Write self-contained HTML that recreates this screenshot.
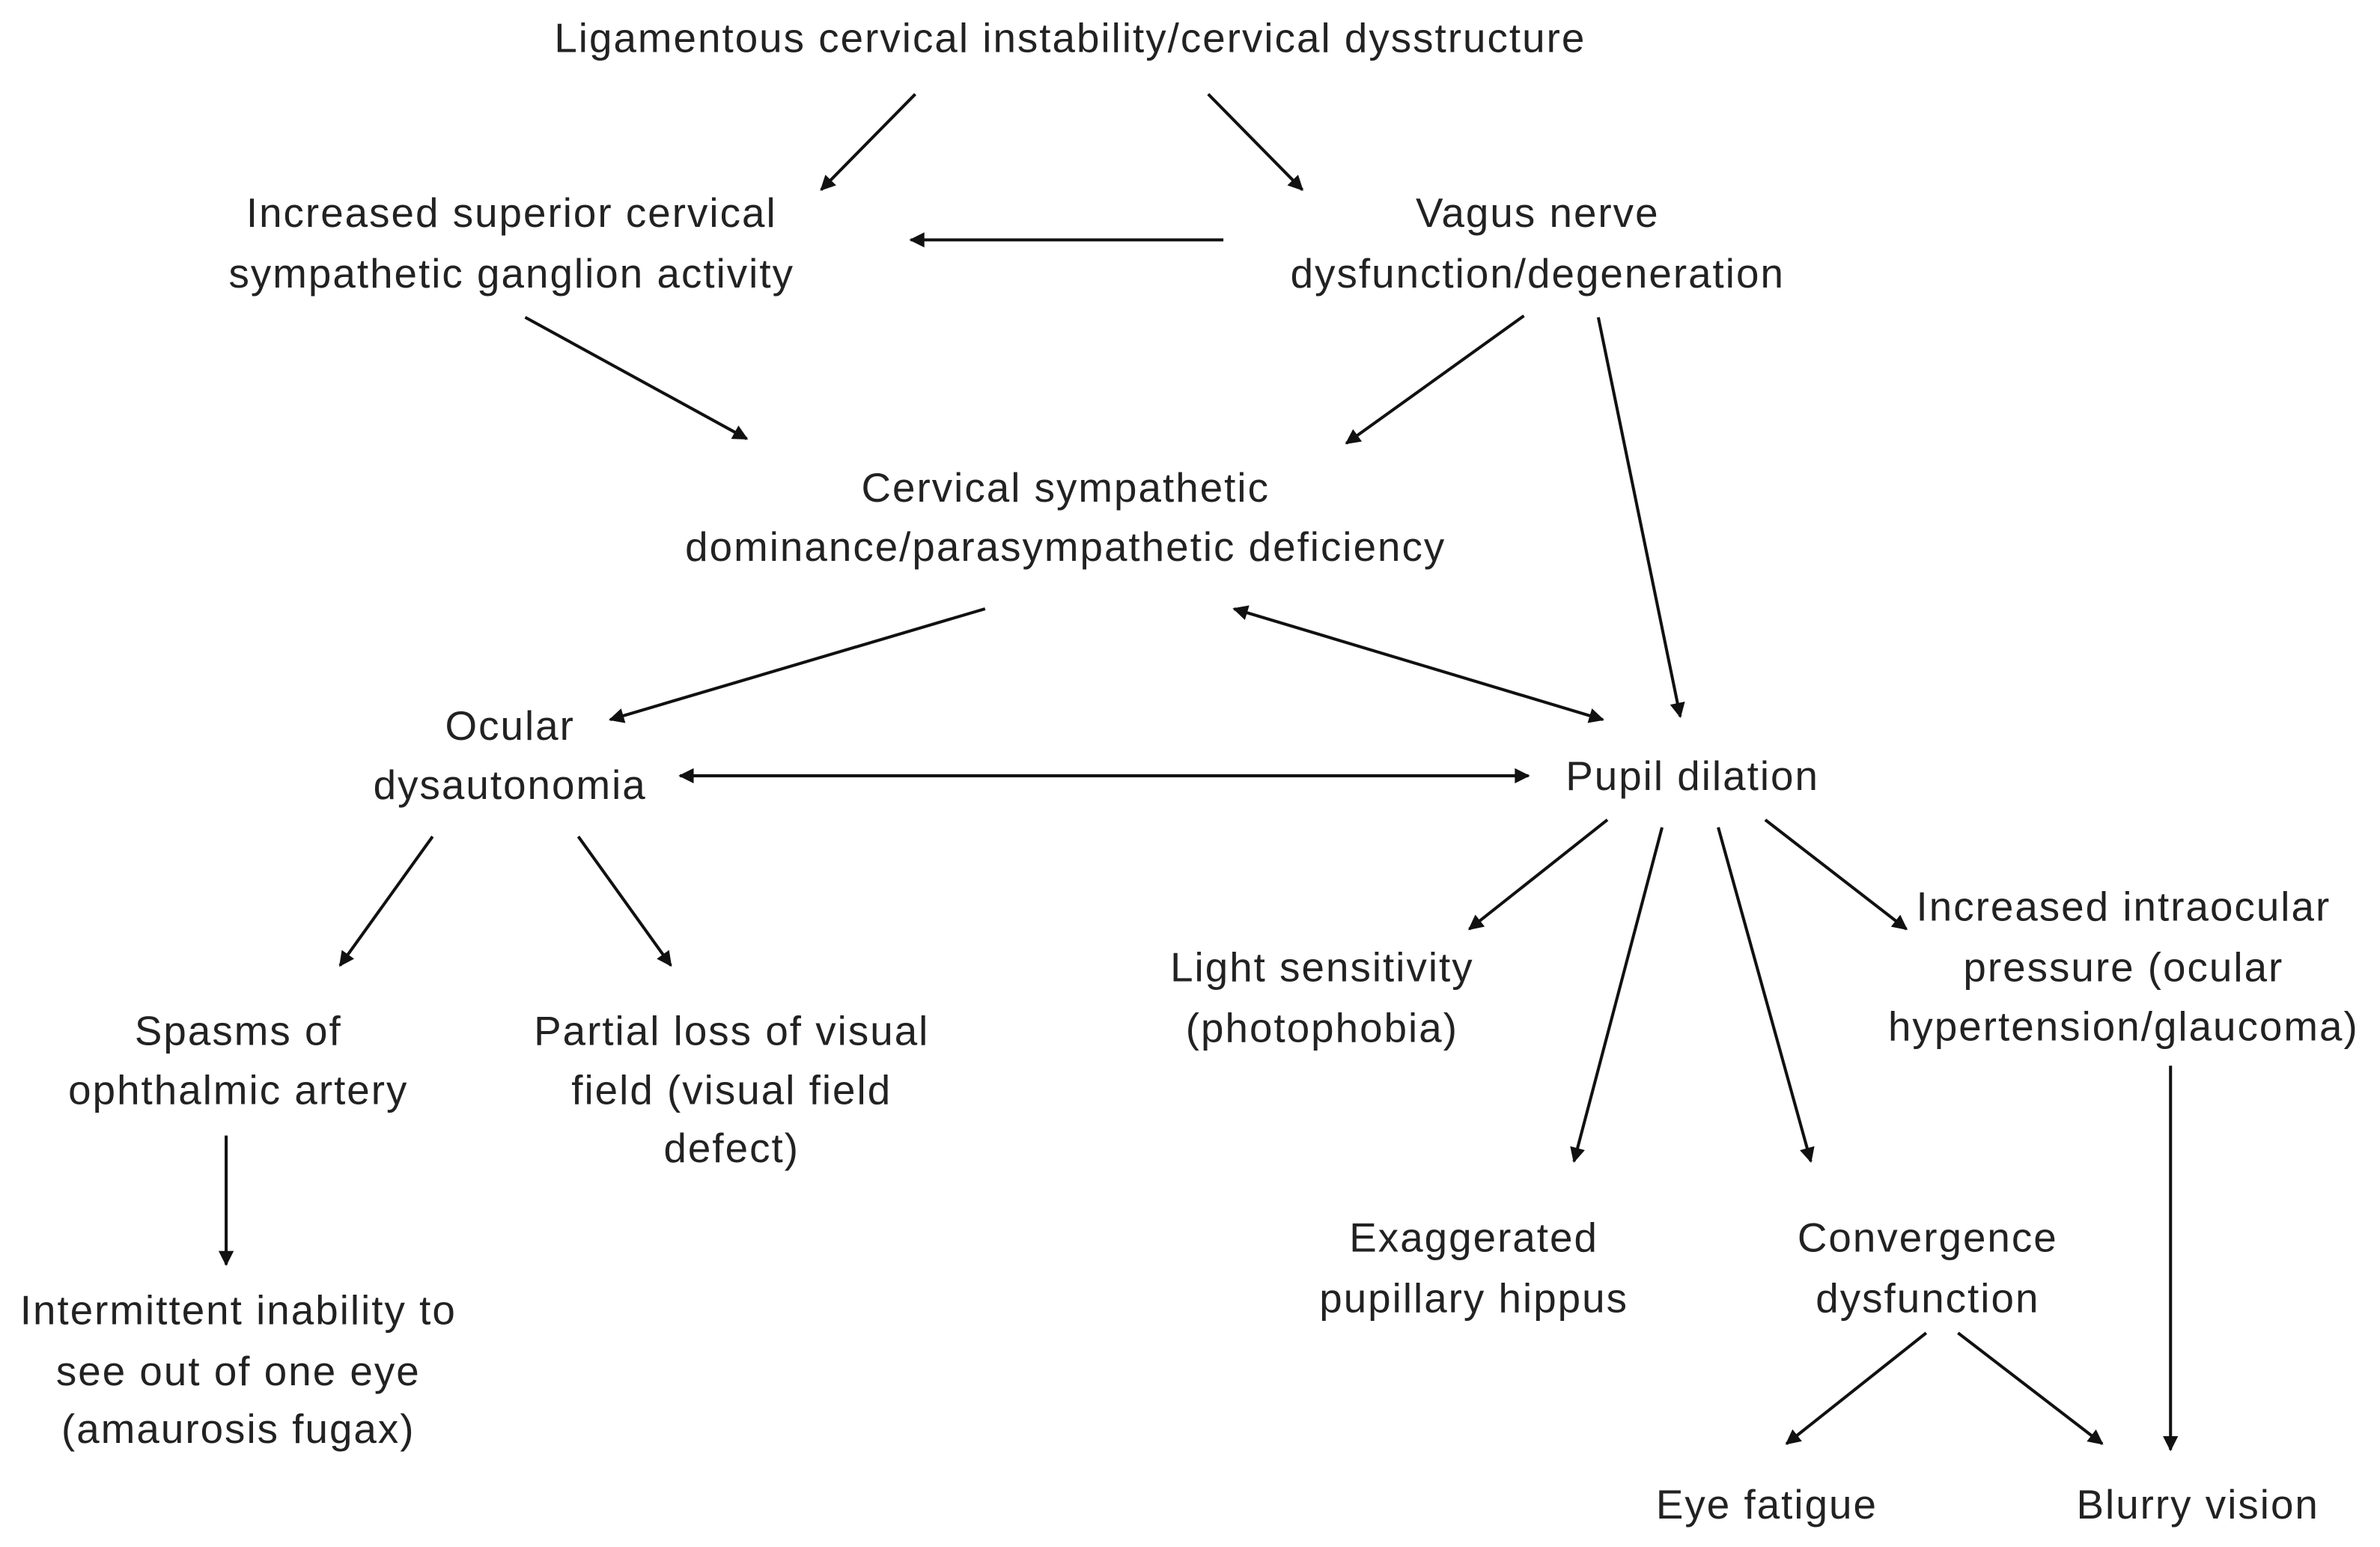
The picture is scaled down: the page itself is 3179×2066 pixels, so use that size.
<!DOCTYPE html>
<html><head><meta charset="utf-8">
<style>
html,body{margin:0;padding:0;background:#fff;}
svg{display:block;}
text{font-family:"Liberation Sans",sans-serif;font-size:27px;letter-spacing:1px;fill:#222;text-anchor:middle;dominant-baseline:central;}
line{stroke:#111;stroke-width:2;}
</style></head>
<body>
<svg width="3179" height="2066" viewBox="0 0 1568 1019" preserveAspectRatio="none">
<defs>
<marker id="a" viewBox="0 0 10 10" refX="9" refY="5" markerWidth="11" markerHeight="10" orient="auto-start-reverse" markerUnits="userSpaceOnUse">
<path d="M0,0 L10,5 L0,10 z" fill="#111"/>
</marker>
</defs>
<text x="705" y="25">Ligamentous cervical instability/cervical dysstructure</text>
<text x="337" y="140">Increased superior cervical</text>
<text x="337" y="180">sympathetic ganglion activity</text>
<text x="1013" y="140">Vagus nerve</text>
<text x="1013" y="180">dysfunction/degeneration</text>
<text x="702" y="321">Cervical sympathetic</text>
<text x="702" y="360">dominance/parasympathetic deficiency</text>
<text x="336" y="478">Ocular</text>
<text x="336" y="517">dysautonomia</text>
<text x="1115" y="511">Pupil dilation</text>
<text x="157" y="679">Spasms of</text>
<text x="157" y="718">ophthalmic artery</text>
<text x="482" y="679">Partial loss of visual</text>
<text x="482" y="718">field (visual field</text>
<text x="482" y="756">defect)</text>
<text x="871" y="637">Light sensitivity</text>
<text x="871" y="677">(photophobia)</text>
<text x="1399" y="597">Increased intraocular</text>
<text x="1399" y="637">pressure (ocular</text>
<text x="1399" y="676">hypertension/glaucoma)</text>
<text x="971" y="815">Exaggerated</text>
<text x="971" y="855">pupillary hippus</text>
<text x="1270" y="815">Convergence</text>
<text x="1270" y="855">dysfunction</text>
<text x="157" y="863">Intermittent inability to</text>
<text x="157" y="903">see out of one eye</text>
<text x="157" y="941">(amaurosis fugax)</text>
<text x="1164" y="991">Eye fatigue</text>
<text x="1448" y="991">Blurry vision</text>

<g marker-end="url(#a)">
<line x1="603" y1="62" x2="541" y2="125"/>
<line x1="796" y1="62" x2="858" y2="125"/>
<line x1="806" y1="158" x2="600" y2="158"/>
<line x1="346" y1="209" x2="492" y2="289"/>
<line x1="1004" y1="208" x2="887" y2="292"/>
<line x1="1053" y1="209" x2="1107" y2="472"/>
<line x1="649" y1="401" x2="402" y2="474"/>
<line x1="813" y1="401" x2="1056" y2="474" marker-start="url(#a)"/>
<line x1="448" y1="511" x2="1007" y2="511" marker-start="url(#a)"/>
<line x1="285" y1="551" x2="224" y2="636"/>
<line x1="381" y1="551" x2="442" y2="636"/>
<line x1="1059" y1="540" x2="968" y2="612"/>
<line x1="1095" y1="545" x2="1037" y2="765"/>
<line x1="1132" y1="545" x2="1193" y2="765"/>
<line x1="1163" y1="540" x2="1256" y2="612"/>
<line x1="149" y1="748" x2="149" y2="833"/>
<line x1="1430" y1="702" x2="1430" y2="955"/>
<line x1="1269" y1="878" x2="1177" y2="951"/>
<line x1="1290" y1="878" x2="1385" y2="951"/>
</g>
</svg>
</body></html>
